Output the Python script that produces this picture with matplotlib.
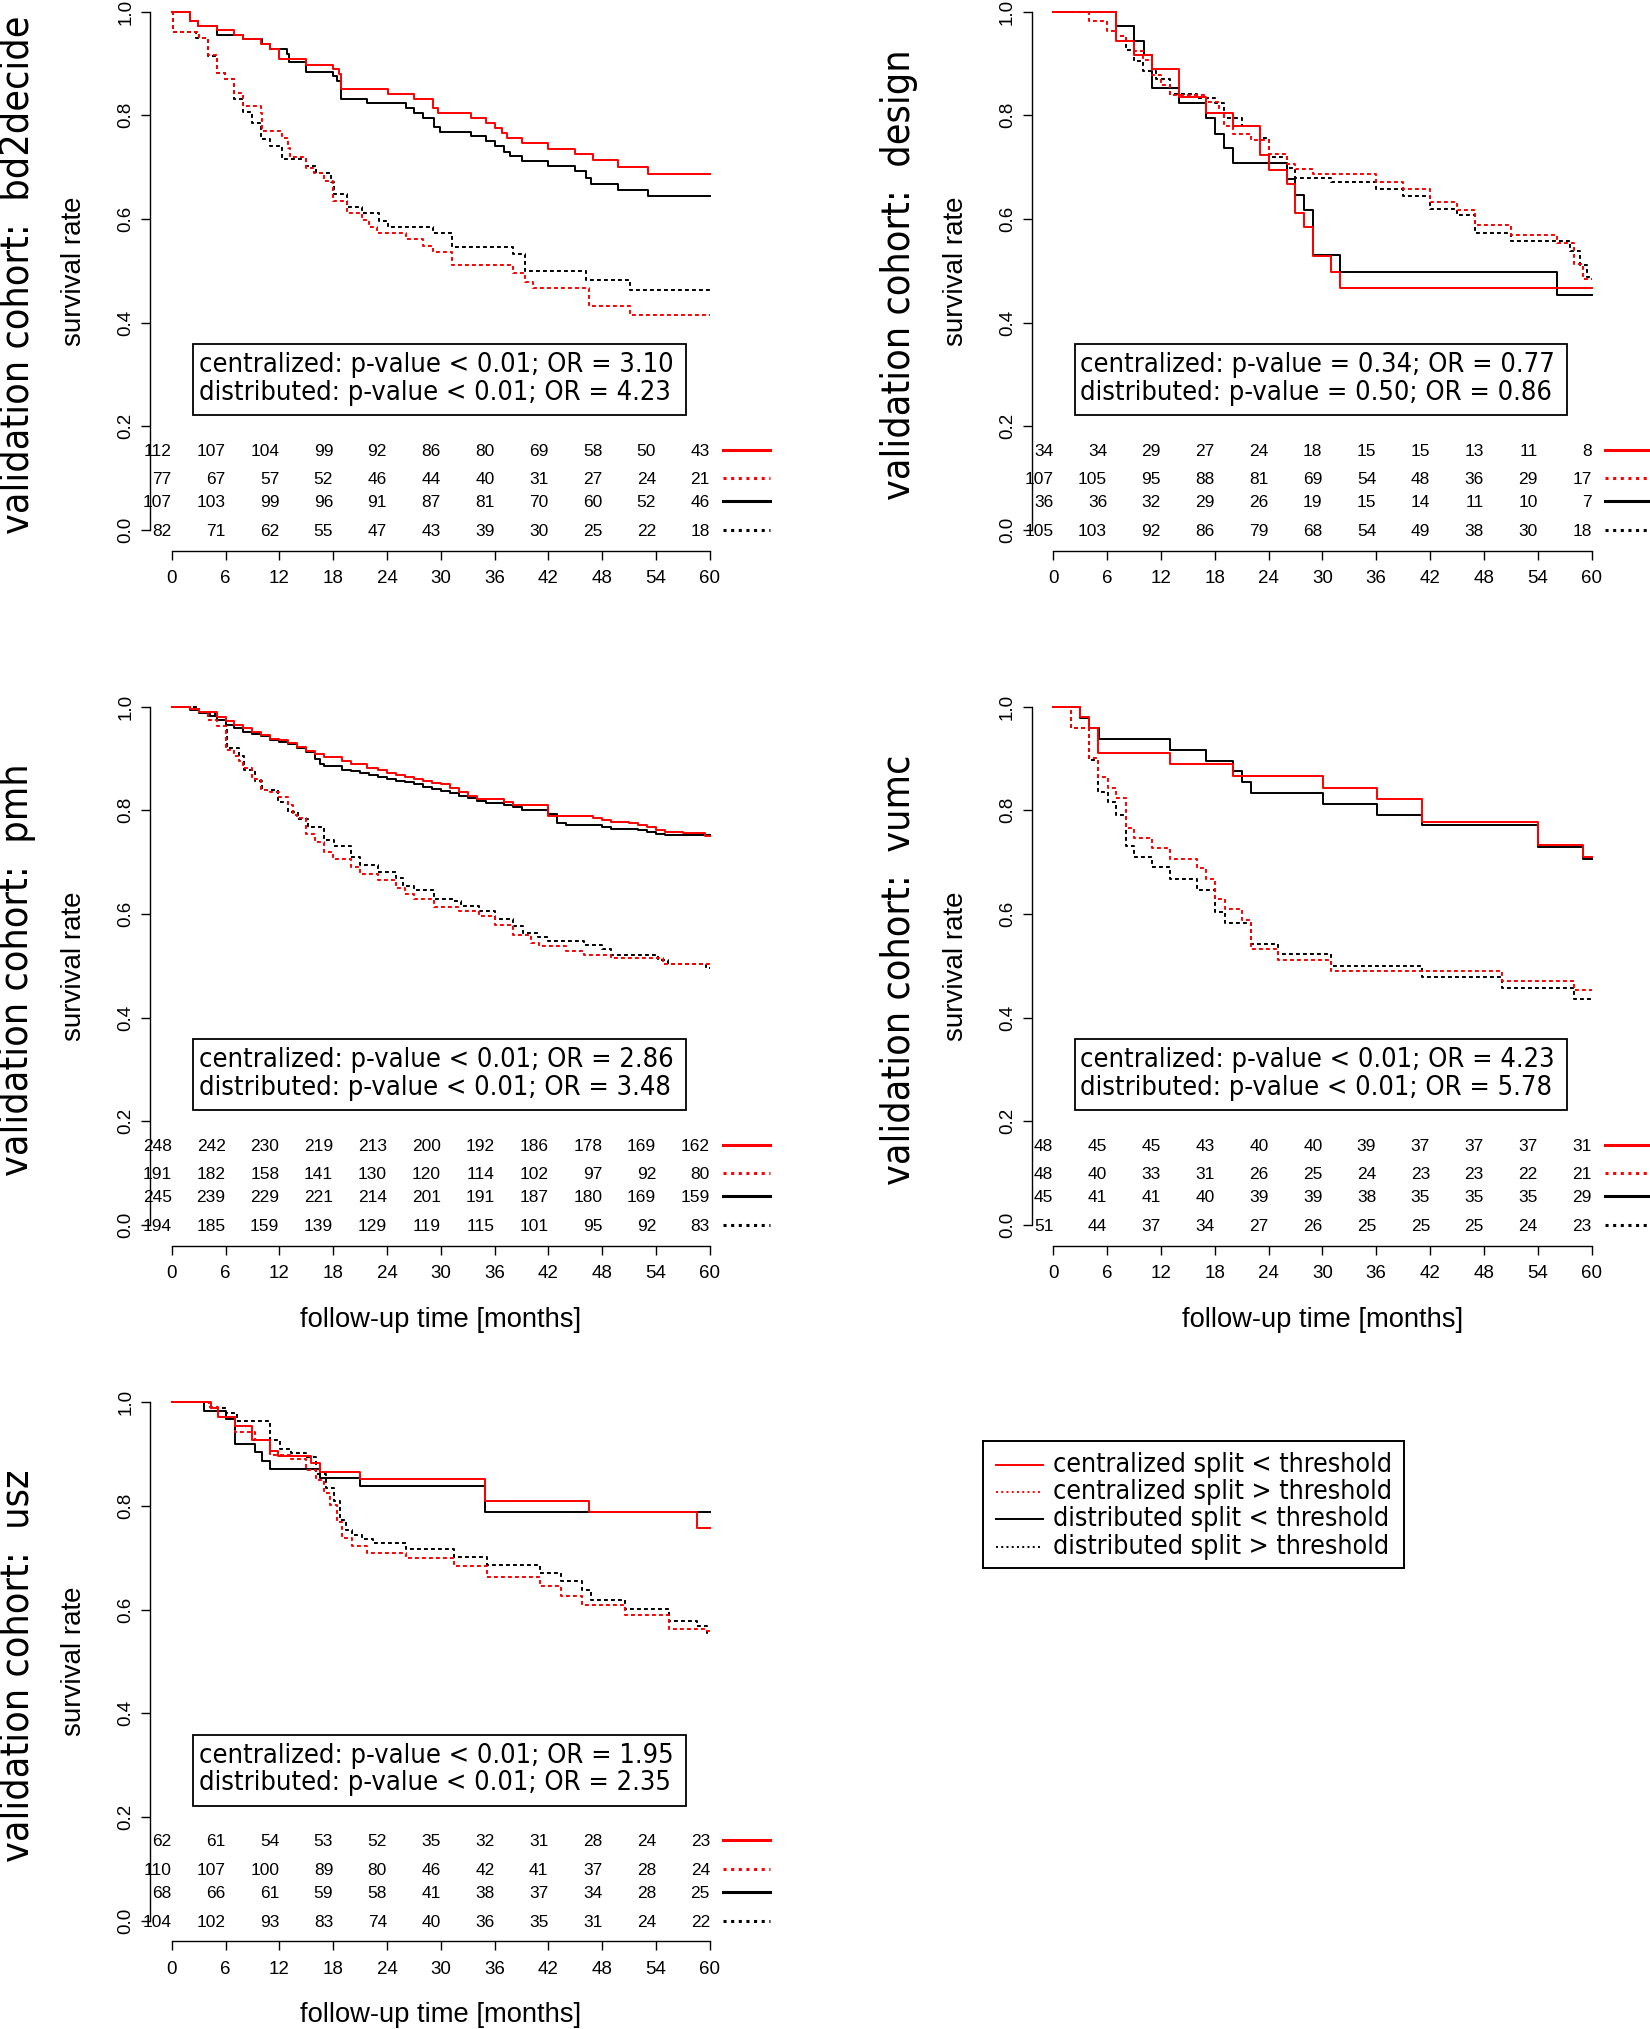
import matplotlib
matplotlib.use('Agg')
import matplotlib.pyplot as plt
import matplotlib.font_manager as fm
from matplotlib.patches import Rectangle

plt.rcParams['font.family'] = ['Liberation Sans', 'DejaVu Sans']

# ---------------- data ----------------
risk_times = [0, 6, 12, 18, 24, 30, 36, 42, 48, 54, 60]
t_max = 60

# bd2decide
bd2_cen_lo_t = [0, 2.0, 2.9, 5.0, 6.9, 8.0, 10.0, 11.0, 12.0, 15.0, 18.0, 18.7, 18.9, 24.1, 27.0, 29.1, 29.7, 33.4,
                35.0, 36.0, 36.8, 37.4, 39.0, 42.0, 45.0, 47.0, 49.7, 53.1]
bd2_cen_lo_s = [1.0, 0.983, 0.973, 0.964, 0.956, 0.947, 0.937, 0.928, 0.908, 0.898, 0.889, 0.879, 0.851, 0.842, 0.832,
                0.815, 0.805, 0.795, 0.785, 0.776, 0.766, 0.757, 0.747, 0.736, 0.725, 0.713, 0.700, 0.687]
bd2_cen_hi_t = [0, 0.1, 3.0, 4.0, 5.0, 5.9, 6.9, 8.0, 10.0, 10.1, 12.3, 13.0, 13.2, 15.0, 15.9, 17.0, 18.0, 19.5, 21.2,
                22.0, 22.9, 26.1, 28.0, 29.1, 31.2, 38.0, 39.4, 40.3, 46.5, 51.1]
bd2_cen_hi_s = [1.0, 0.961, 0.950, 0.916, 0.882, 0.870, 0.844, 0.818, 0.805, 0.769, 0.757, 0.737, 0.720, 0.698, 0.689,
                0.673, 0.634, 0.611, 0.598, 0.584, 0.573, 0.561, 0.548, 0.537, 0.511, 0.496, 0.479, 0.467, 0.433, 0.415]
bd2_dis_lo_t = [0, 2.0, 2.9, 5.0, 8.0, 10.1, 11.0, 12.9, 13.1, 15.0, 18.0, 18.4, 18.9, 21.8, 26.1, 27.0, 28.0, 29.2,
                29.9, 33.4, 35.0, 36.0, 37.1, 37.7, 39.0, 42.0, 45.0, 46.2, 46.8, 49.7, 53.1]
bd2_dis_lo_s = [1.0, 0.983, 0.973, 0.956, 0.947, 0.937, 0.928, 0.918, 0.903, 0.884, 0.875, 0.866, 0.832, 0.823, 0.814,
                0.805, 0.795, 0.777, 0.768, 0.760, 0.750, 0.740, 0.730, 0.721, 0.711, 0.702, 0.692, 0.679, 0.668, 0.656,
                0.644]
bd2_dis_hi_t = [0, 0.1, 2.7, 4.0, 5.0, 5.9, 6.9, 8.0, 9.0, 10.0, 11.0, 12.3, 15.0, 16.1, 17.8, 18.1, 19.5, 21.2, 23.1,
                24.1, 29.1, 31.2, 38.0, 39.4, 46.2, 51.1]
bd2_dis_hi_s = [1.0, 0.961, 0.950, 0.914, 0.882, 0.870, 0.832, 0.807, 0.786, 0.754, 0.740, 0.715, 0.702, 0.689, 0.672,
                0.649, 0.624, 0.611, 0.597, 0.584, 0.573, 0.546, 0.532, 0.500, 0.482, 0.463]
bd2_risk = [[112, 107, 104, 99, 92, 86, 80, 69, 58, 50, 43],
            [77, 67, 57, 52, 46, 44, 40, 31, 27, 24, 21],
            [107, 103, 99, 96, 91, 87, 81, 70, 60, 52, 46],
            [82, 71, 62, 55, 47, 43, 39, 30, 25, 22, 18]]
bd2_stats = ['centralized: p-value < 0.01; OR = 3.10', 'distributed: p-value < 0.01; OR = 4.23']

# design
des_cen_lo_t = [0, 7.0, 9.0, 11.0, 14.0, 17.0, 20.0, 23.0, 24.0, 26.1, 27.0, 28.0, 29.0, 31.0, 32.0]
des_cen_lo_s = [1.0, 0.944, 0.916, 0.889, 0.836, 0.805, 0.779, 0.723, 0.695, 0.668, 0.611, 0.584, 0.528, 0.498, 0.467]
des_cen_hi_t = [0, 4.0, 6.0, 7.0, 8.1, 9.0, 10.0, 11.0, 12.0, 13.0, 17.0, 18.5, 19.0, 20.0, 22.0, 24.0, 26.1, 27.0,
                29.0, 36.0, 39.0, 42.0, 45.0, 47.0, 51.0, 56.1, 58.1, 59.1]
des_cen_hi_s = [1.0, 0.982, 0.963, 0.954, 0.944, 0.925, 0.907, 0.878, 0.859, 0.840, 0.826, 0.805, 0.779, 0.765, 0.752,
                0.725, 0.706, 0.696, 0.687, 0.672, 0.658, 0.632, 0.618, 0.588, 0.569, 0.553, 0.513, 0.485]
des_dis_lo_t = [0, 7.0, 9.0, 10.1, 11.0, 14.0, 17.0, 18.0, 19.0, 20.0, 26.1, 27.0, 28.0, 29.0, 32.0, 56.1]
des_dis_lo_s = [1.0, 0.972, 0.943, 0.916, 0.853, 0.824, 0.795, 0.765, 0.737, 0.708, 0.678, 0.647, 0.618, 0.531, 0.498,
                0.453]
des_dis_hi_t = [0, 7.0, 8.1, 9.0, 10.0, 11.5, 13.0, 16.0, 18.0, 19.0, 21.0, 23.0, 24.0, 26.1, 27.0, 31.0, 36.0, 39.0,
                42.0, 45.0, 47.0, 51.0, 57.6, 58.7, 59.5]
des_dis_hi_s = [1.0, 0.954, 0.927, 0.905, 0.885, 0.870, 0.841, 0.834, 0.823, 0.795, 0.779, 0.757, 0.719, 0.698, 0.679,
                0.672, 0.658, 0.645, 0.620, 0.607, 0.573, 0.557, 0.538, 0.511, 0.489]
des_risk = [[34, 34, 29, 27, 24, 18, 15, 15, 13, 11, 8],
            [107, 105, 95, 88, 81, 69, 54, 48, 36, 29, 17],
            [36, 36, 32, 29, 26, 19, 15, 14, 11, 10, 7],
            [105, 103, 92, 86, 79, 68, 54, 49, 38, 30, 18]]
des_stats = ['centralized: p-value = 0.34; OR = 0.77', 'distributed: p-value = 0.50; OR = 0.86']

# pmh
pmh_cen_lo_t = [0, 2, 3, 5, 6, 7, 8, 9, 10, 11, 12, 13, 14, 15, 16, 17, 19, 20, 21.8, 23, 24, 25, 26, 27, 28, 29, 30,
                31, 32, 33, 34, 37, 38, 42, 47, 48, 49, 51, 52, 53, 54, 55, 57, 59.5]
pmh_cen_lo_s = [1.0, 0.995, 0.99, 0.98, 0.972, 0.965, 0.958, 0.952, 0.945, 0.938, 0.935, 0.930, 0.922, 0.915, 0.908,
                0.903, 0.895, 0.890, 0.882, 0.877, 0.872, 0.868, 0.864, 0.861, 0.857, 0.853, 0.850, 0.843, 0.835, 0.828,
                0.822, 0.816, 0.810, 0.789, 0.786, 0.782, 0.778, 0.775, 0.771, 0.767, 0.762, 0.759, 0.757, 0.750]
pmh_cen_hi_t = [0, 2, 3, 4, 5, 6, 7, 7.5, 8, 9, 10, 11, 12, 13, 13.5, 14, 15, 16, 17, 18, 20, 21, 23, 25, 26, 27, 29.2,
                32, 34.3, 36, 38, 40, 41, 44, 46, 49, 54.8]
pmh_cen_hi_s = [1.0, 0.995, 0.99, 0.974, 0.963, 0.917, 0.905, 0.895, 0.881, 0.86, 0.84, 0.835, 0.825, 0.81, 0.792,
                0.785, 0.755, 0.738, 0.719, 0.706, 0.690, 0.678, 0.666, 0.650, 0.639, 0.629, 0.613, 0.605, 0.597, 0.578,
                0.560, 0.544, 0.538, 0.528, 0.520, 0.516, 0.503]
pmh_dis_lo_t = [0, 2, 3, 4, 5, 6, 7, 8, 9, 10, 11, 12, 13, 14, 15, 16, 16.5, 17, 19, 20, 21, 22, 23, 24, 25, 26, 27,
                28, 29, 30, 31, 32, 33, 34, 35, 37, 38, 39, 42, 43, 44, 48, 49, 52, 53, 54, 55]
pmh_dis_lo_s = [1.0, 0.993, 0.988, 0.983, 0.975, 0.965, 0.958, 0.952, 0.948, 0.943, 0.936, 0.932, 0.928, 0.920, 0.912,
                0.900, 0.890, 0.885, 0.878, 0.875, 0.872, 0.868, 0.865, 0.861, 0.857, 0.854, 0.850, 0.846, 0.842, 0.838,
                0.834, 0.828, 0.823, 0.818, 0.814, 0.810, 0.806, 0.800, 0.793, 0.775, 0.771, 0.767, 0.764, 0.762, 0.758,
                0.755, 0.752]
pmh_dis_hi_t = [0, 3, 4, 5, 6, 6.2, 7.5, 8.1, 9.3, 10.1, 11.8, 13, 14.1, 15.2, 17, 18.1, 20, 21, 23, 25, 25.8, 27,
                29.2, 31.5, 32.3, 34.3, 36, 38, 39.2, 40.8, 42, 46, 48, 49, 54.2, 55.3, 59.6]
pmh_dis_hi_s = [1.0, 0.99, 0.985, 0.975, 0.962, 0.921, 0.905, 0.877, 0.856, 0.839, 0.816, 0.796, 0.783, 0.767, 0.743,
                0.731, 0.710, 0.694, 0.682, 0.670, 0.654, 0.646, 0.629, 0.625, 0.615, 0.605, 0.591, 0.577, 0.564, 0.555,
                0.548, 0.540, 0.532, 0.521, 0.512, 0.504, 0.496]
pmh_risk = [[248, 242, 230, 219, 213, 200, 192, 186, 178, 169, 162],
            [191, 182, 158, 141, 130, 120, 114, 102, 97, 92, 80],
            [245, 239, 229, 221, 214, 201, 191, 187, 180, 169, 159],
            [194, 185, 159, 139, 129, 119, 115, 101, 95, 92, 83]]
pmh_stats = ['centralized: p-value < 0.01; OR = 2.86', 'distributed: p-value < 0.01; OR = 3.48']

# vumc
vu_cen_lo_t = [0, 3, 4, 5, 13, 20, 30.1, 36.1, 41.1, 54, 59.1]
vu_cen_lo_s = [1.0, 0.980, 0.958, 0.911, 0.889, 0.866, 0.844, 0.822, 0.777, 0.733, 0.710]
vu_cen_hi_t = [0, 2, 4, 5, 6.1, 7, 8.1, 9, 11, 13, 16, 17, 18, 19.1, 21, 22, 25, 31, 50, 58.1]
vu_cen_hi_s = [1.0, 0.959, 0.901, 0.865, 0.844, 0.824, 0.766, 0.747, 0.727, 0.706, 0.688, 0.668, 0.629, 0.609, 0.588,
               0.532, 0.511, 0.491, 0.471, 0.453]
vu_dis_lo_t = [0, 3, 4, 5.1, 13, 17, 20, 21, 22, 30.1, 36.1, 41.1, 54, 59.1]
vu_dis_lo_s = [1.0, 0.978, 0.958, 0.938, 0.917, 0.895, 0.875, 0.855, 0.834, 0.812, 0.792, 0.771, 0.729, 0.706]
vu_dis_hi_t = [0, 2, 4, 5, 6.1, 7, 8.1, 9, 11, 13, 16, 18, 19.1, 22, 25, 31, 41.1, 50, 58.1]
vu_dis_hi_s = [1.0, 0.959, 0.897, 0.836, 0.816, 0.792, 0.732, 0.710, 0.690, 0.668, 0.647, 0.604, 0.583, 0.542, 0.522,
               0.499, 0.479, 0.458, 0.437]
vu_risk = [[48, 45, 45, 43, 40, 40, 39, 37, 37, 37, 31],
           [48, 40, 33, 31, 26, 25, 24, 23, 23, 22, 21],
           [45, 41, 41, 40, 39, 39, 38, 35, 35, 35, 29],
           [51, 44, 37, 34, 27, 26, 25, 25, 25, 24, 23]]
vu_stats = ['centralized: p-value < 0.01; OR = 4.23', 'distributed: p-value < 0.01; OR = 5.78']

# usz
usz_cen_lo_t = [0, 4.4, 5.2, 7.1, 9, 11, 11.8, 15.5, 16.5, 21, 34.9, 46.5, 58.6]
usz_cen_lo_s = [1.0, 0.989, 0.972, 0.955, 0.927, 0.907, 0.896, 0.883, 0.866, 0.852, 0.810, 0.788, 0.757]
usz_cen_hi_t = [0, 4.2, 5.2, 7.1, 9.3, 11, 13.3, 15, 16.1, 17, 17.7, 18.4, 19, 20.1, 21.8, 26.1, 31.5, 35.2, 41.1,
                43.4, 45.7, 50.5, 55.4, 59.7]
usz_cen_hi_s = [1.0, 0.992, 0.972, 0.943, 0.927, 0.899, 0.891, 0.870, 0.850, 0.826, 0.802, 0.769, 0.738, 0.722, 0.710,
                0.700, 0.684, 0.664, 0.646, 0.627, 0.609, 0.589, 0.562, 0.558]
usz_dis_lo_t = [0, 3.6, 6.1, 7.1, 9.3, 10.1, 11, 16.5, 21, 34.9]
usz_dis_lo_s = [1.0, 0.984, 0.968, 0.919, 0.904, 0.887, 0.871, 0.854, 0.838, 0.789]
usz_dis_hi_t = [0, 4.4, 6.1, 7.3, 11, 12.1, 13.3, 15, 16.1, 17.2, 18.1, 18.8, 19.4, 20.1, 21.2, 22.4, 26.1, 31.5, 35.2,
                41.1, 43.4, 45.7, 46.8, 50.5, 55.4, 58.6, 59.7]
usz_dis_hi_s = [1.0, 0.989, 0.979, 0.964, 0.927, 0.911, 0.903, 0.895, 0.862, 0.834, 0.810, 0.773, 0.753, 0.745, 0.737,
                0.729, 0.717, 0.702, 0.686, 0.670, 0.656, 0.638, 0.619, 0.601, 0.579, 0.568, 0.555]
usz_risk = [[62, 61, 54, 53, 52, 35, 32, 31, 28, 24, 23],
            [110, 107, 100, 89, 80, 46, 42, 41, 37, 28, 24],
            [68, 66, 61, 59, 58, 41, 38, 37, 34, 28, 25],
            [104, 102, 93, 83, 74, 40, 36, 35, 31, 24, 22]]
usz_stats = ['centralized: p-value < 0.01; OR = 1.95', 'distributed: p-value < 0.01; OR = 2.35']

group_labels = ['centralized split < threshold', 'centralized split > threshold',
                'distributed split < threshold', 'distributed split > threshold']

# ---------------- styling ----------------
RED = '#ff0000'
DOT = (0, (2, 1.6))
styles = [(RED, '-'), (RED, DOT), ('black', '-'), ('black', DOT)]
risk_y = [0.155, 0.1, 0.055, 0.0]

cond_path = fm.findfont(fm.FontProperties(family='DejaVu Sans', stretch='condensed'))
has_cond = 'Condensed' in cond_path
dv = dict(family='DejaVu Sans', stretch='condensed' if has_cond else 'normal')
box_fs = 19.5 if has_cond else 17.8
leg_fs = 19.3 if has_cond else 17.4
title_fs = 28.3 if has_cond else 25.6

W, H = 1650, 2029
PX_T = 8.97     # pixels per month
PX_S = 518.3    # pixels per unit survival

fig = plt.figure(figsize=(W / 100, H / 100), dpi=100)


def make_axes(x0, y0):
    left = x0 - 2.4 * PX_T
    right = x0 + 62.4 * PX_T
    bot = y0 + 0.04 * PX_S
    top = y0 - 1.04 * PX_S
    return fig.add_axes([left / W, 1 - bot / H, (right - left) / W, (bot - top) / H])


def panel(x0, y0, name, curves, risk, stats, xlabel):
    ax = make_axes(x0, y0)
    # red drawn last so it sits on top
    for k in [3, 2, 1, 0]:
        t, s = curves[k]
        col, ls = styles[k]
        ax.step(list(t) + [t_max], list(s) + [s[-1]], where='post', color=col, linestyle=ls, lw=1.4)

    for k in range(4):
        col, ls = styles[k]
        for tt, n in zip(risk_times, risk[k]):
            ax.text(tt, risk_y[k], str(n), ha='right', va='center_baseline', fontsize=12.5)
        lls = ls if ls == '-' else (0, (1, 1.5))
        ax.plot([61.5, 66.7], [risk_y[k], risk_y[k]], color=col, linestyle=lls, lw=2.2, clip_on=False)

    ax.add_patch(Rectangle((2.4, 0.222), 54.9, 0.136, fill=False, edgecolor='black', lw=1.3))
    ax.text(3.0, 0.318, stats[0], ha='left', va='center', fontsize=box_fs, **dv)
    ax.text(3.0, 0.265, stats[1], ha='left', va='center', fontsize=box_fs, **dv)

    ax.set_xlim(-2.4, 62.4)
    ax.set_ylim(-0.04, 1.04)
    ax.set_xticks(risk_times)
    ax.set_yticks([0, 0.2, 0.4, 0.6, 0.8, 1.0])
    ax.set_yticklabels(['0.0', '0.2', '0.4', '0.6', '0.8', '1.0'])
    for sp in ['top', 'right']:
        ax.spines[sp].set_visible(False)
    ax.spines['left'].set_bounds(0, 1)
    ax.spines['bottom'].set_bounds(0, 60)
    for sp in ['left', 'bottom']:
        ax.spines[sp].set_linewidth(1.0)
    ax.tick_params(direction='out', length=6.5, width=1.0, labelsize=13.5)
    ax.tick_params(axis='x', pad=7.5)
    ax.tick_params(axis='y', pad=5, labelrotation=90)
    for lbl in ax.get_yticklabels():
        lbl.set_verticalalignment('center')

    axis_px = x0 - 2.4 * PX_T
    yc = y0 - 0.5 * PX_S
    fig.text((axis_px - 133) / W, 1 - (yc + 4) / H, 'validation cohort:  ' + name, rotation=90,
             ha='center', va='center', fontsize=title_fs, **dv)
    fig.text((axis_px - 76) / W, 1 - yc / H, 'survival rate', rotation=90,
             ha='center', va='center', fontsize=20)
    if xlabel:
        fig.text((x0 + 30 * PX_T) / W, 1 - (y0 + 0.04 * PX_S + 74) / H, 'follow-up time [months]',
                 ha='center', va='center', fontsize=19.7)
    return ax


panel(171.7, 530, 'bd2decide',
      [(bd2_cen_lo_t, bd2_cen_lo_s), (bd2_cen_hi_t, bd2_cen_hi_s), (bd2_dis_lo_t, bd2_dis_lo_s),
       (bd2_dis_hi_t, bd2_dis_hi_s)], bd2_risk, bd2_stats, False)
panel(1053.3, 530, 'design',
      [(des_cen_lo_t, des_cen_lo_s), (des_cen_hi_t, des_cen_hi_s), (des_dis_lo_t, des_dis_lo_s),
       (des_dis_hi_t, des_dis_hi_s)], des_risk, des_stats, False)
panel(171.7, 1225, 'pmh',
      [(pmh_cen_lo_t, pmh_cen_lo_s), (pmh_cen_hi_t, pmh_cen_hi_s), (pmh_dis_lo_t, pmh_dis_lo_s),
       (pmh_dis_hi_t, pmh_dis_hi_s)], pmh_risk, pmh_stats, True)
panel(1053.3, 1225, 'vumc',
      [(vu_cen_lo_t, vu_cen_lo_s), (vu_cen_hi_t, vu_cen_hi_s), (vu_dis_lo_t, vu_dis_lo_s),
       (vu_dis_hi_t, vu_dis_hi_s)], vu_risk, vu_stats, True)
panel(171.7, 1920.7, 'usz',
      [(usz_cen_lo_t, usz_cen_lo_s), (usz_cen_hi_t, usz_cen_hi_s), (usz_dis_lo_t, usz_dis_lo_s),
       (usz_dis_hi_t, usz_dis_hi_s)], usz_risk, usz_stats, True)

# legend box, lower right
lx0, lx1, ly0, ly1 = 983, 1404, 1441, 1568
lax = fig.add_axes([lx0 / W, 1 - ly1 / H, (lx1 - lx0) / W, (ly1 - ly0) / H])
lax.set_xlim(lx0, lx1)
lax.set_ylim(ly1, ly0)
lax.set_xticks([])
lax.set_yticks([])
for sp in lax.spines.values():
    sp.set_linewidth(1.4)
leg_rows = [1465, 1492, 1519, 1547]
for k in range(4):
    col, ls = styles[k]
    lls = ls if ls == '-' else (0, (1, 1.7))
    lax.plot([996, 1043], [leg_rows[k], leg_rows[k]], color=col, linestyle=lls, lw=1.4)
    lax.text(1053, leg_rows[k], group_labels[k], ha='left', va='center', fontsize=leg_fs, **dv)

fig.savefig('out.png', dpi=100)
